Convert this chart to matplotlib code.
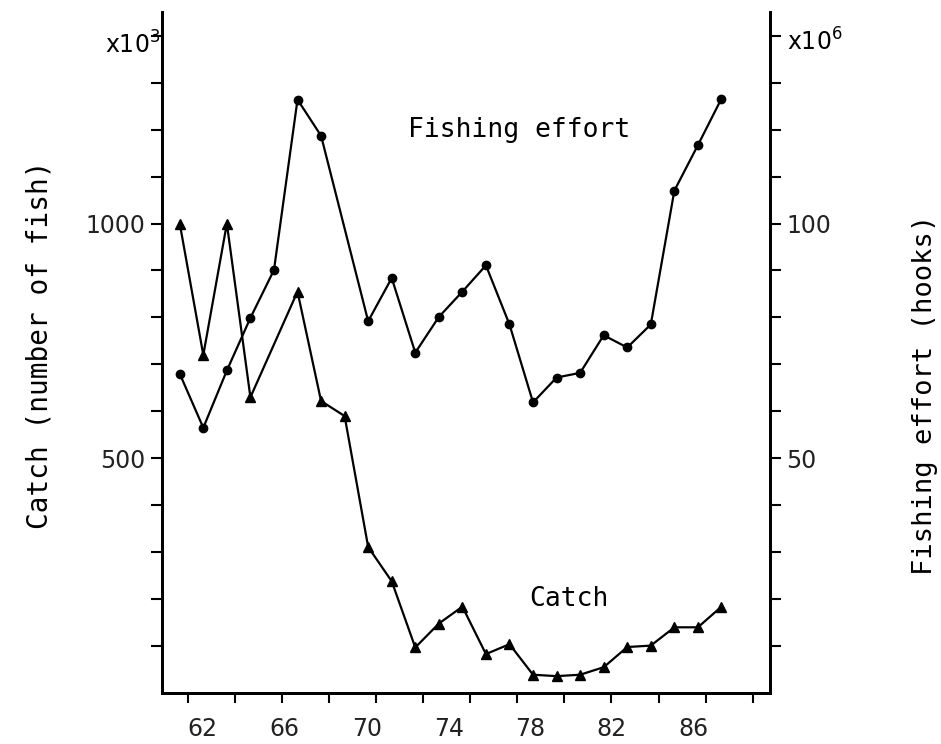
import matplotlib
matplotlib.use("Agg")
import matplotlib.pyplot as plt
import numpy as np

# Annual series (two-digit years); a year with no reading is simply left out
catch_years = [62, 63, 64, 65, 67, 68, 69, 70, 71, 72, 73, 74,
               75, 76, 77, 78, 79, 80, 81, 82, 83, 84, 85]
catch_k = [1000, 720, 1000, 630, 855, 622, 590, 311, 238, 97, 148, 184,
           83, 104, 39, 36, 39, 55, 98, 101, 140, 140, 184]  # x10^3 fish

effort_years = [62, 63, 64, 65, 66, 67, 68, 70, 71, 72, 73, 74,
                75, 76, 77, 78, 79, 80, 81, 82, 83, 84, 85]
effort_m = [68.0, 56.5, 68.7, 79.9, 90.1, 126.4, 118.7, 79.2, 88.4, 72.5, 80.1, 85.5,
            91.1, 78.5, 61.9, 67.2, 68.2, 76.2, 73.6, 78.5, 107.0, 116.7, 126.6]  # x10^6 hooks

year_labels = ["62", "66", "70", "74", "78", "82", "86"]

plt.rcParams["mathtext.default"] = "regular"
mono = "DejaVu Sans Mono"
sans = "DejaVu Sans"

fig = plt.figure(figsize=(9.41, 7.44), dpi=100)
ax = fig.add_axes([0.172, 0.0685, 0.646, 0.915])
ax2 = ax.twinx()

ax.plot(catch_years, catch_k, color="black", lw=1.6, marker="^", ms=7.5)
ax2.plot(effort_years, effort_m, color="black", lw=1.6, marker="o", ms=6)

ax.set_xlim(61.24, 87.05)
ax.set_ylim(0, 1450)
ax2.set_ylim(0, 145)

# y ticks: a mark every 100 (10), numbers only at 500 and 1000 (50, 100)
ax.set_yticks(np.arange(100, 1401, 100))
ax.set_yticklabels(["500" if v == 500 else "1000" if v == 1000 else ""
                    for v in range(100, 1401, 100)])
ax2.set_yticks(np.arange(10, 141, 10))
ax2.set_yticklabels(["50" if v == 50 else "100" if v == 100 else ""
                     for v in range(10, 141, 10)])

# x axis: hand-set marks every two years, labels printed on their own row
tick_marks = np.arange(62, 87, 2) + 0.33
label_pos = [62.98, 66.46, 69.94, 73.42, 76.86, 80.34, 83.83]
ax.set_xticks(label_pos)
ax.set_xticklabels(year_labels)
ax.set_xticks(tick_marks, minor=True)
ax.tick_params(axis="x", which="major", length=0, pad=17)
ax.tick_params(axis="x", which="minor", length=7, width=1.5, direction="out")

for a in (ax, ax2):
    a.tick_params(axis="y", length=8, width=1.5, direction="out", pad=4)
    for lab in a.get_xticklabels() + a.get_yticklabels():
        lab.set_fontfamily(sans)
        lab.set_fontsize(17)
        lab.set_color("#222222")
    for s in a.spines.values():
        s.set_linewidth(2)
    a.spines["top"].set_visible(False)

ax.text(71.68, 1200, "Fishing effort", fontsize=19, family=mono,
        ha="left", va="center")
ax.text(76.86, 200, "Catch", fontsize=19, family=mono, ha="left", va="center")

fig.text(40 / 941, 1 - 345 / 744, "Catch (number of fish)", rotation=90,
         fontsize=20, family=mono, ha="center", va="center")
fig.text(925 / 941, 1 - 395 / 744, "Fishing effort (hooks)", rotation=90,
         fontsize=19.5, family=mono, ha="center", va="center")
fig.text(133 / 941, 1 - 45 / 744, "x10$^{3}$", fontsize=17, family=sans,
         ha="center", va="center")
fig.text(815 / 941, 1 - 42 / 744, "x10$^{6}$", fontsize=17, family=sans,
         ha="center", va="center")

fig.savefig("out.png", dpi=100)
